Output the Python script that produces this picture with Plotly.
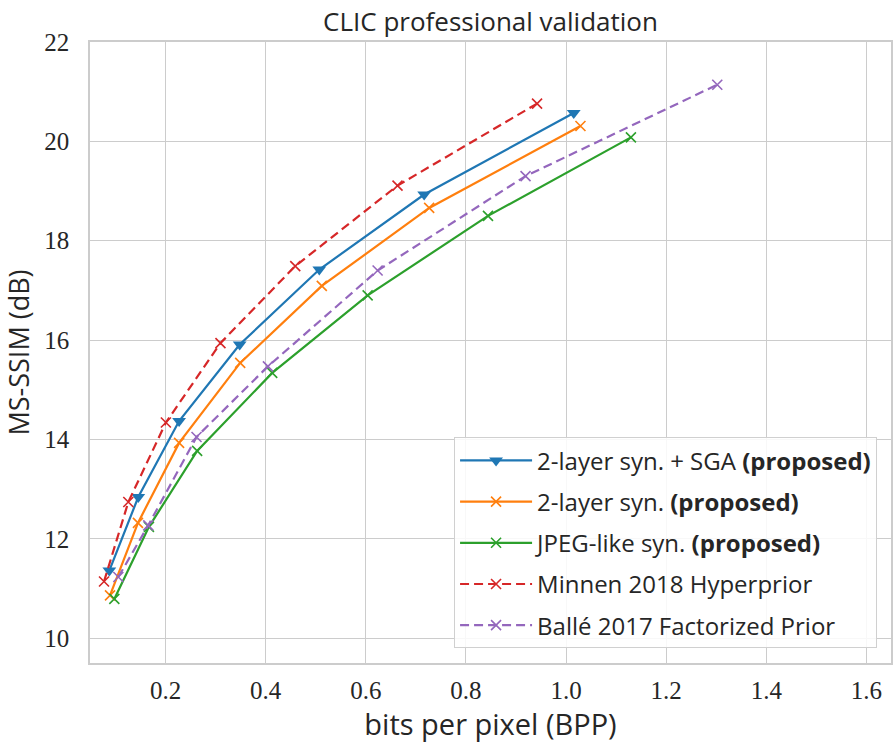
import plotly.graph_objects as go

# Data (bits per pixel, MS-SSIM dB)
sga_bpp = [0.0876, 0.1454, 0.227, 0.348, 0.507, 0.7165, 1.0153]
sga_db = [11.36, 12.84, 14.37, 15.91, 17.42, 18.93, 20.57]

two_bpp = [0.089, 0.1448, 0.227, 0.349, 0.512, 0.7265, 1.0287]
two_db = [10.86, 12.32, 13.93, 15.54, 17.09, 18.66, 20.31]

jpeg_bpp = [0.0976, 0.1667, 0.263, 0.413, 0.6036, 0.844, 1.1295]
jpeg_db = [10.79, 12.24, 13.77, 15.34, 16.90, 18.50, 20.08]

minnen_bpp = [0.077, 0.1255, 0.2006, 0.3096, 0.459, 0.6633, 0.942]
minnen_db = [11.14, 12.74, 14.34, 15.94, 17.49, 19.11, 20.76]

balle_bpp = [0.1056, 0.1653, 0.2618, 0.4044, 0.6235, 0.919, 1.302]
balle_db = [11.23, 12.27, 14.05, 15.47, 17.40, 19.30, 21.14]

names = [
    "2-layer syn. + SGA <b>(proposed)</b>",
    "2-layer syn. <b>(proposed)</b>",
    "JPEG-like syn. <b>(proposed)</b>",
    "Minnen 2018 Hyperprior",
    "Ballé 2017 Factorized Prior",
]
colors = ["#1f77b4", "#ff7f0e", "#2ca02c", "#d62728", "#9467bd"]

series = [
    (sga_bpp, sga_db, "triangle-down", "solid"),
    (two_bpp, two_db, "x-thin", "solid"),
    (jpeg_bpp, jpeg_db, "x-thin", "solid"),
    (minnen_bpp, minnen_db, "x-thin", "9px,5px"),
    (balle_bpp, balle_db, "x-thin", "9px,5px"),
]

SANS = "Open Sans"

fig = go.Figure()
for i, ((xs, ys, sym, dash), name, col) in enumerate(zip(series, names, colors)):
    if sym == "triangle-down":
        marker = dict(symbol=sym, size=12, color=col, line=dict(width=0))
    else:
        marker = dict(symbol=sym, size=10, color=col, line=dict(width=1.6, color=col))
    fig.add_trace(go.Scatter(
        x=xs, y=ys, mode="lines+markers", name=name,
        line=dict(color=col, width=2.2, dash=dash),
        marker=marker, legendgroup=f"g{i}",
    ))

axis_common = dict(
    showgrid=True, gridcolor="#cccccc", gridwidth=1.2,
    showline=True, linecolor="#cccccc", linewidth=1.5, mirror=True,
    zeroline=False, ticks="",
    tickfont=dict(family="Liberation Serif", size=25, color="#262626"),
)

fig.update_layout(
    width=894, height=744,
    margin=dict(l=90, r=1, t=42, b=81),
    paper_bgcolor="white", plot_bgcolor="white",
    title=dict(text="CLIC professional validation", x=0.5, xref="paper",
               y=1 - 21.7 / 744, yref="container", yanchor="middle", xanchor="center",
               font=dict(family=SANS, size=26, color="#262626")),
    xaxis=dict(range=[0.049, 1.649], tickvals=[0.2, 0.4, 0.6, 0.8, 1.0, 1.2, 1.4, 1.6],
               ticktext=["0.2", "0.4", "0.6", "0.8", "1.0", "1.2", "1.4", "1.6"],
               ticklabelstandoff=4,
               title=dict(text="bits per pixel (BPP)", standoff=0,
                          font=dict(family=SANS, size=29, color="#262626")),
               **axis_common),
    yaxis=dict(range=[9.5, 22], tickvals=[10, 12, 14, 16, 18, 20, 22],
               ticklabelstandoff=14,
               title=dict(text="MS-SSIM (dB)", standoff=7,
                          font=dict(family=SANS, size=27, color="#262626")),
               **axis_common),
    legend=dict(x=0.9826, y=0.0237, xanchor="right", yanchor="bottom",
                bgcolor="rgba(255,255,255,0.85)", bordercolor="#d0d0d0", borderwidth=1,
                font=dict(family=SANS, size=24, color="#262626"),
                tracegroupgap=7, itemwidth=72),
    showlegend=True,
)

fig.write_html("out.html")
